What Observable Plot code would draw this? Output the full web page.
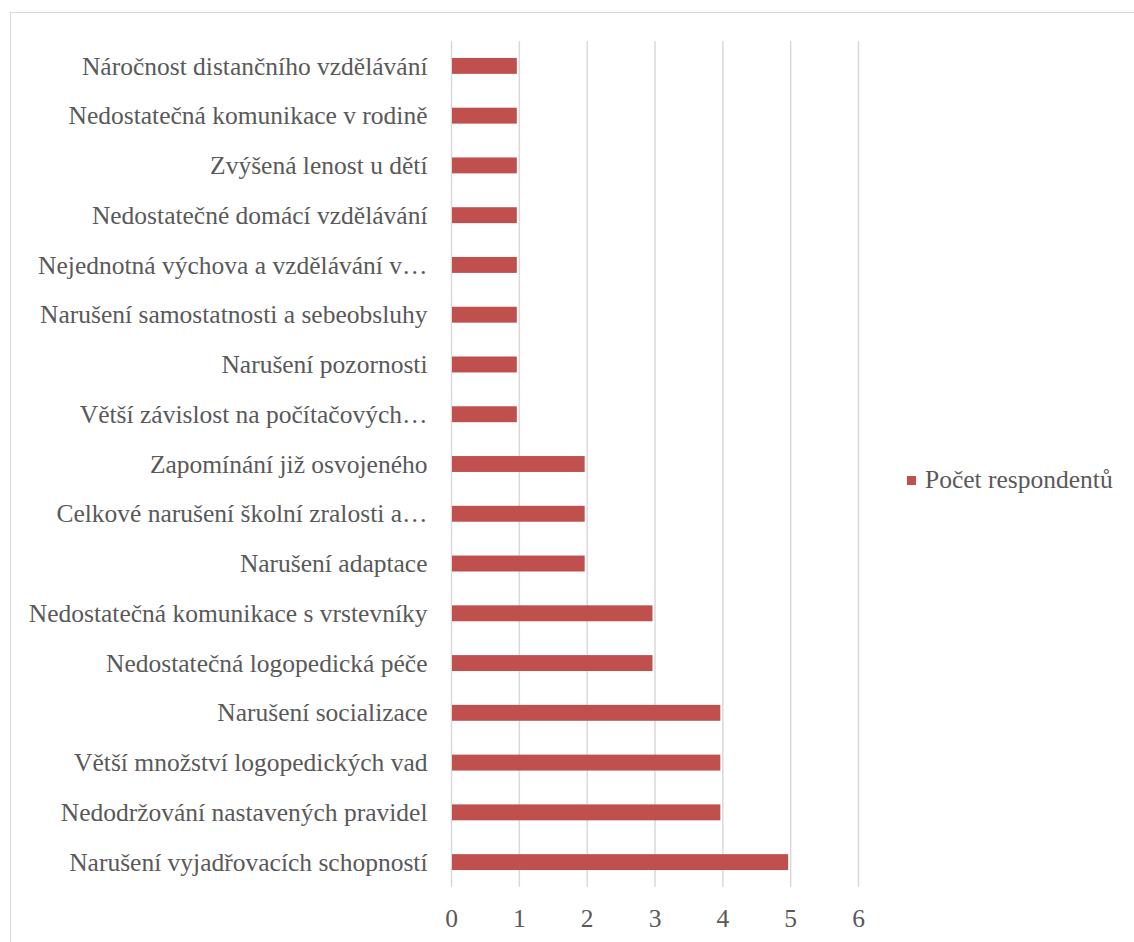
<!DOCTYPE html>
<html>
<head>
<meta charset="utf-8">
<script src="https://cdn.jsdelivr.net/npm/d3@7"></script>
<script src="https://cdn.jsdelivr.net/npm/@observablehq/plot@0.6"></script>
<style>
  html, body { margin: 0; padding: 0; background: #fff; overflow: hidden; }
  #wrap { position: relative; width: 1134px; height: 942px; }
  #chart svg { display: block; }
  #border { position: absolute; left: 10px; top: 12px; width: 1200px; height: 1000px; border: 1.5px solid #d9d9d9; box-sizing: border-box; pointer-events: none; }
  #legend { position: absolute; left: 907px; top: 465px; font-family: "Liberation Serif", serif; font-size: 25.5px; color: #595959; display: flex; align-items: center; white-space: nowrap; line-height: 30px; }
  #legend .sw { width: 9px; height: 9px; background: #c0504d; margin-right: 9px; }
</style>
</head>
<body>
<div id="wrap">
  <div id="chart"></div>
  <div id="border"></div>
  <div id="legend"><span class="sw"></span><span>Počet respondentů</span></div>
</div>
<script>
const categories = [
  "Náročnost distančního vzdělávání",
  "Nedostatečná komunikace v rodině",
  "Zvýšená lenost u dětí",
  "Nedostatečné domácí vzdělávání",
  "Nejednotná výchova a vzdělávání v…",
  "Narušení samostatnosti a sebeobsluhy",
  "Narušení pozornosti",
  "Větší závislost na počítačových…",
  "Zapomínání již osvojeného",
  "Celkové narušení školní zralosti a…",
  "Narušení adaptace",
  "Nedostatečná komunikace s vrstevníky",
  "Nedostatečná logopedická péče",
  "Narušení socializace",
  "Větší množství logopedických vad",
  "Nedodržování nastavených pravidel",
  "Narušení vyjadřovacích schopností"
];
const values = [1, 1, 1, 1, 1, 1, 1, 1, 2, 2, 2, 3, 3, 4, 4, 4, 5];
const xTicks = [0, 1, 2, 3, 4, 5, 6];
const seriesName = "Počet respondentů";

const data = categories.map((c, i) => ({category: c, value: values[i], series: seriesName}));

const chart = Plot.plot({
  width: 1134,
  height: 942,
  marginLeft: 451,
  marginRight: 276,
  marginTop: 41,
  marginBottom: 55,
  style: {fontFamily: "'Liberation Serif', serif", fontSize: "25.5px", color: "#595959", background: "#fff", overflow: "visible"},
  x: {domain: [0, 6], ticks: xTicks, tickSize: 0, tickPadding: 21, label: null, tickFormat: d => String(d)},
  y: {domain: categories, round: false, paddingInner: 0.68, paddingOuter: 0.34, tickSize: 0, tickPadding: 24, label: null},
  marks: [
    Plot.ruleX(xTicks, {stroke: "#d9d9d9", strokeWidth: 1.5, strokeOpacity: 1}),
    Plot.barX(data, {x: "value", y: "category", fill: "#c0504d", insetLeft: 1, insetRight: 2})
  ]
});
document.getElementById("chart").appendChild(chart);
</script>
</body>
</html>
